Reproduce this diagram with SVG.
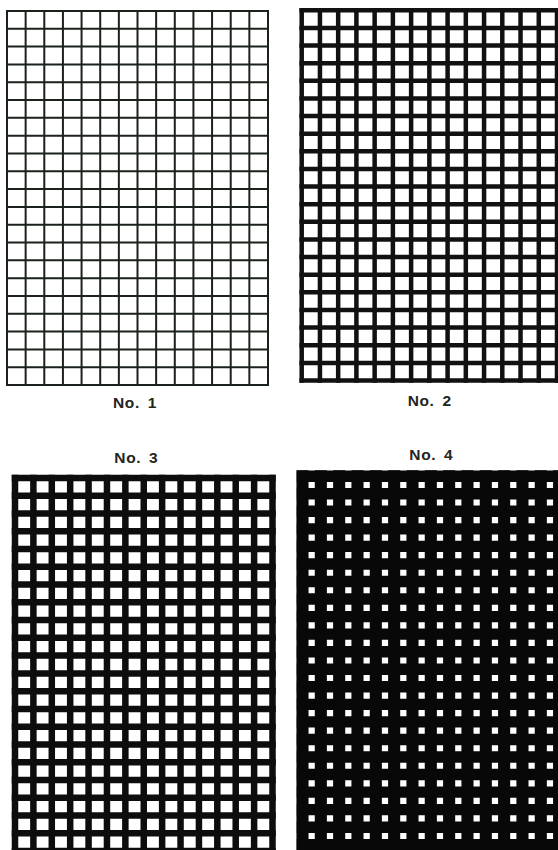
<svg xmlns="http://www.w3.org/2000/svg" width="558" height="850" viewBox="0 0 558 850">
<style>
.g{fill:none;stroke-linecap:square;stroke-linejoin:miter}
#grid1 path{stroke:#1b221b;stroke-width:2}
#grid2 path{stroke:#111;stroke-width:4.5}
#grid3 path{stroke:#0d0d0d;stroke-width:6.5}
#grid4 path{stroke:#080808}
.lbl{font-family:"Liberation Sans",Arial,sans-serif;font-weight:bold;font-size:15.5px;fill:#252520;text-anchor:middle;letter-spacing:0.6px;word-spacing:3px}
</style>
<rect width="558" height="850" fill="#fff"/>
<g id="grid1" class="g">
<path d="M7 11V385M25.64 11V385M44.29 11V385M62.93 11V385M81.57 11V385M100.21 11V385M118.86 11V385M137.5 11V385M156.14 11V385M174.79 11V385M193.43 11V385M212.07 11V385M230.71 11V385M249.36 11V385M268 11V385"/>
<path d="M7 11H268M7 28.81H268M7 46.62H268M7 64.43H268M7 82.24H268M7 100.05H268M7 117.86H268M7 135.67H268M7 153.48H268M7 171.29H268M7 189.1H268M7 206.9H268M7 224.71H268M7 242.52H268M7 260.33H268M7 278.14H268M7 295.95H268M7 313.76H268M7 331.57H268M7 349.38H268M7 367.19H268M7 385H268"/>
</g>
<g id="grid2" class="g">
<path d="M301.7 10.3V380.5M319.94 10.3V380.5M338.17 10.3V380.5M356.41 10.3V380.5M374.64 10.3V380.5M392.88 10.3V380.5M411.12 10.3V380.5M429.35 10.3V380.5M447.59 10.3V380.5M465.82 10.3V380.5M484.06 10.3V380.5M502.3 10.3V380.5M520.53 10.3V380.5M538.77 10.3V380.5M557 10.3V380.5"/>
<path d="M301.7 10.3H557M301.7 27.93H557M301.7 45.56H557M301.7 63.19H557M301.7 80.82H557M301.7 98.45H557M301.7 116.07H557M301.7 133.7H557M301.7 151.33H557M301.7 168.96H557M301.7 186.59H557M301.7 204.22H557M301.7 221.85H557M301.7 239.48H557M301.7 257.11H557M301.7 274.74H557M301.7 292.36H557M301.7 309.99H557M301.7 327.62H557M301.7 345.25H557M301.7 362.88H557M301.7 380.5H557"/>
</g>
<g id="grid3" class="g">
<path d="M15 478V851M33.39 478V851M51.79 478V851M70.18 478V851M88.57 478V851M106.96 478V851M125.36 478V851M143.75 478V851M162.14 478V851M180.54 478V851M198.93 478V851M217.32 478V851M235.71 478V851M254.11 478V851M272.5 478V851"/>
<path d="M15 478H272.5M15 495.76H272.5M15 513.52H272.5M15 531.29H272.5M15 549.05H272.5M15 566.81H272.5M15 584.57H272.5M15 602.33H272.5M15 620.1H272.5M15 637.86H272.5M15 655.62H272.5M15 673.38H272.5M15 691.14H272.5M15 708.91H272.5M15 726.67H272.5M15 744.43H272.5M15 762.19H272.5M15 779.95H272.5M15 797.72H272.5M15 815.48H272.5M15 833.24H272.5M15 851H272.5"/>
</g>
<g id="grid4" class="g">
<path stroke-width="12.1" d="M302.5 476.2V844.75M320.83 476.2V844.75M339.16 476.2V844.75M357.49 476.2V844.75M375.82 476.2V844.75M394.15 476.2V844.75M412.48 476.2V844.75M430.81 476.2V844.75M449.14 476.2V844.75M467.47 476.2V844.75M485.8 476.2V844.75M504.13 476.2V844.75M522.46 476.2V844.75M540.79 476.2V844.75M559.12 476.2V844.75"/>
<path stroke-width="11.4" d="M302.5 476.2H559.12M302.5 493.75H559.12M302.5 511.3H559.12M302.5 528.85H559.12M302.5 546.4H559.12M302.5 563.95H559.12M302.5 581.5H559.12M302.5 599.05H559.12M302.5 616.6H559.12M302.5 634.15H559.12M302.5 651.7H559.12M302.5 669.25H559.12M302.5 686.8H559.12M302.5 704.35H559.12M302.5 721.9H559.12M302.5 739.45H559.12M302.5 757H559.12M302.5 774.55H559.12M302.5 792.1H559.12M302.5 809.65H559.12M302.5 827.2H559.12M302.5 844.75H559.12"/>
</g>
<g id="labels">
<text class="lbl" x="135" y="408.3">No. 1</text>
<text class="lbl" x="429.7" y="405.7">No. 2</text>
<text class="lbl" x="136.3" y="463.3">No. 3</text>
<text class="lbl" x="431.3" y="460">No. 4</text>
</g>
</svg>
